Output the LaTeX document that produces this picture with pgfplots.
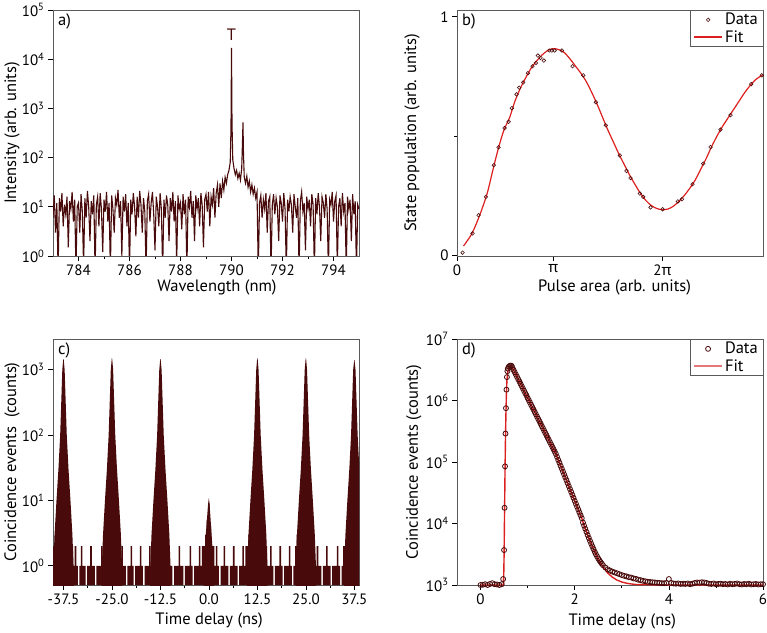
\documentclass[border=0pt]{standalone}
\usepackage{fontspec}
\setmainfont{PT Sans}
\newfontfamily\grk{Noto Sans}
\usepackage{pgfplots}
\pgfplotsset{compat=1.18}
\definecolor{maroon}{RGB}{72,10,10}
\definecolor{fitred}{RGB}{220,32,32}
\definecolor{fitpink}{RGB}{228,120,120}
\definecolor{framec}{RGB}{90,90,90}
\newcommand{\fs}{\fontsize{16.5}{18}\selectfont}
\newcommand{\fst}{\fontsize{15}{16}\selectfont}

\pgfplotsset{
  panel/.style={
    scale only axis, width=306pt, height=246pt,
    anchor=south west,
    font=\fs,
    tick label style={font=\fst},
    label style={font=\fs},
    axis line style={framec, line width=0.6pt},
    tick align=outside, xtick pos=bottom, ytick pos=left,
    major tick length=5pt, minor tick length=3pt,
    every tick/.style={black, line width=0.6pt},
    /pgf/number format/assume math mode=true,
    legend image code/.code={\draw[mark repeat=2,mark phase=2,##1] plot coordinates {(0cm,0cm)(0.5cm,0cm)(1cm,0cm)};},
    legend style={at={(1,1)}, anchor=north east, draw=framec, line width=0.5pt,
      inner xsep=3pt, inner ysep=1pt, row sep=0pt, font=\fs},
    legend cell align=left,
  },
}
\tikzset{plabel/.style={anchor=north west, inner sep=0pt, font=\fs}}

\begin{document}
\begin{tikzpicture}
\path[use as bounding box] (0,0) rectangle (767pt,632pt);

% a) emission spectrum
\begin{axis}[panel, at={(53pt,376pt)},
  xmin=783, xmax=795, ymode=log, log basis y=10, ymin=1, ymax=1e5,
  xtick={784,786,...,794}, minor x tick num=1,
  ytick={1,10,100,1000,10000,100000},
  yticklabels={10\textsuperscript{0},10\textsuperscript{1},10\textsuperscript{2},10\textsuperscript{3},10\textsuperscript{4},10\textsuperscript{5}},
  yminorticks=false,
  xlabel={Wavelength (nm)}, ylabel={Intensity (arb. units)},
  xlabel style={at={(axis description cs:0.536,-0.126)}, anchor=center},
  ylabel style={at={(axis description cs:-0.134,0.5)}, anchor=center},
]
\addplot[maroon, line width=1.1pt] coordinates {
(783.00,6)(783.05,17)(783.10,3)(783.15,12)(783.20,0.5)(783.25,15)(783.30,8)(783.35,19)(783.40,4)(783.45,11)
(783.50,7)(783.55,16)(783.60,1.5)(783.65,13)(783.70,9)(783.75,20)(783.80,5)(783.85,14)(783.90,0.5)(783.95,10)
(784.00,12)(784.05,3)(784.10,18)(784.15,8)(784.20,0.6)(784.25,15)(784.30,6)(784.35,21)(784.40,10)(784.45,2)
(784.50,13)(784.55,7)(784.60,17)(784.65,0.5)(784.70,11)(784.75,16)(784.80,4)(784.85,19)(784.90,9)(784.95,1.2)
(785.00,14)(785.05,8)(785.10,20)(785.15,5)(785.20,12)(785.25,0.5)(785.30,17)(785.35,9)(785.40,3)(785.45,15)
(785.50,11)(785.55,22)(785.60,6)(785.65,13)(785.70,1)(785.75,16)(785.80,8)(785.85,18)(785.90,4)(785.95,12)
(786.00,0.5)(786.05,14)(786.10,7)(786.15,19)(786.20,10)(786.25,2.5)(786.30,16)(786.35,6)(786.40,21)(786.45,11)
(786.50,3)(786.55,15)(786.60,8)(786.65,0.5)(786.70,13)(786.75,18)(786.80,5)(786.85,12)(786.90,20)(786.95,7)
(787.00,1.3)(787.05,16)(787.10,10)(787.15,4)(787.20,19)(787.25,9)(787.30,0.5)(787.35,14)(787.40,6)(787.45,17)
(787.50,11)(787.55,2)(787.60,15)(787.65,8)(787.70,20)(787.75,5)(787.80,13)(787.85,0.7)(787.90,17)(787.95,9)
(788.00,12)(788.05,3.5)(788.10,18)(788.15,7)(788.20,14)(788.25,0.5)(788.30,16)(788.35,10)(788.40,21)(788.45,6)
(788.50,13)(788.55,2)(788.60,17)(788.65,9)(788.70,15)(788.75,4)(788.80,19)(788.85,11)(788.90,1.5)(788.95,14)
(789.00,18)(789.05,8)(789.10,20)(789.15,4)(789.20,16)(789.25,11)(789.30,24)(789.35,6)(789.40,19)(789.45,28)
(789.50,10)(789.55,30)(789.60,15)(789.65,33)(789.70,22)(789.75,40)(789.80,30)(789.85,45)(789.90,55)(789.95,80)
(789.98,400)(790.00,17000)(790.02,500)(790.05,90)(790.10,60)(790.15,45)(790.20,55)(790.25,38)(790.30,48)(790.35,35)
(790.40,60)(790.43,200)(790.45,520)(790.47,120)(790.50,40)(790.55,30)(790.60,42)(790.65,25)(790.70,33)(790.75,20)
(790.80,28)(790.85,18)(790.90,24)(790.95,15)(791.00,20)
(791.05,0.5)(791.10,12)(791.15,17)(791.20,6)(791.25,14)(791.30,9)(791.35,19)(791.40,3)(791.45,13)(791.50,16)
(791.55,0.5)(791.60,11)(791.65,18)(791.70,7)(791.75,15)(791.80,10)(791.85,2)(791.90,17)(791.95,12)(792.00,5)
(792.05,19)(792.10,9)(792.15,0.5)(792.20,14)(792.25,8)(792.30,16)(792.35,11)(792.40,3)(792.45,18)(792.50,10)
(792.55,6)(792.60,15)(792.65,0.5)(792.70,13)(792.75,20)(792.80,8)(792.85,12)(792.90,1.3)(792.95,16)(793.00,9)
(793.05,14)(793.10,4)(793.15,18)(793.20,11)(793.25,0.5)(793.30,15)(793.35,7)(793.40,19)(793.45,10)(793.50,2)
(793.55,16)(793.60,12)(793.65,6)(793.70,18)(793.75,9)(793.80,0.5)(793.85,14)(793.90,11)(793.95,20)(794.00,5)
(794.05,13)(794.10,17)(794.15,0.6)(794.20,10)(794.25,15)(794.30,4)(794.35,19)(794.40,8)(794.45,12)(794.50,0.5)
(794.55,16)(794.60,9)(794.65,14)(794.70,2)(794.75,18)(794.80,7)(794.85,13)(794.90,0.5)(794.95,11)(795.00,9)
};
\node[maroon, font=\fs] at (axis cs:790,31623) {T};
\node[plabel] at (rel axis cs:0,1) [xshift=5pt, yshift=-4pt] {a)};
\end{axis}

% b) Rabi oscillation
\begin{axis}[panel, at={(457pt,376pt)},
  xmin=0.12, xmax=2.92, ymin=-0.004, ymax=1.028,
  xtick={0.12,1,2}, xticklabels={0,{\grk π},2{\grk π}},
  ytick={0,1}, minor ytick={0.5},
  xlabel={Pulse area (arb. units)}, ylabel={State population (arb. units)},
  xlabel style={at={(axis description cs:0.515,-0.126)}, anchor=center},
  ylabel style={at={(axis description cs:-0.147,0.5)}, anchor=center},
]
\addplot[only marks, mark=o, mark size=1.8pt, mark options={maroon, line width=0.6pt}] coordinates {
(0.171,0.010)(0.262,0.091)(0.317,0.167)(0.384,0.244)(0.457,0.377)(0.500,0.452)(0.555,0.533)(0.592,0.559)
(0.622,0.616)(0.665,0.674)(0.689,0.702)(0.726,0.724)(0.769,0.763)(0.811,0.792)(0.842,0.806)(0.860,0.837)
(0.885,0.827)(0.915,0.816)(0.964,0.858)(0.988,0.858)(1.013,0.858)(1.080,0.858)(1.177,0.792)(1.275,0.754)
(1.391,0.641)(1.482,0.544)(1.610,0.418)(1.671,0.353)(1.708,0.323)(1.793,0.258)(1.824,0.244)(1.891,0.200)
(2.001,0.192)(2.141,0.225)(2.178,0.234)(2.275,0.297)(2.373,0.384)(2.440,0.453)(2.531,0.526)(2.623,0.587)
(2.812,0.717)(2.909,0.754)
};
\addlegendentry{Data}
\addplot[fitred, line width=1.2pt, smooth] coordinates {
(0.18,0.038)(0.25,0.085)(0.30,0.135)(0.35,0.195)(0.40,0.265)(0.45,0.36)(0.50,0.45)(0.55,0.525)(0.60,0.575)
(0.65,0.645)(0.70,0.70)(0.75,0.745)(0.80,0.785)(0.85,0.815)(0.90,0.84)(0.95,0.858)(1.00,0.866)(1.05,0.862)
(1.10,0.85)(1.15,0.825)(1.20,0.795)(1.25,0.765)(1.30,0.73)(1.35,0.685)(1.40,0.635)(1.45,0.58)(1.50,0.525)
(1.55,0.475)(1.60,0.425)(1.65,0.38)(1.70,0.335)(1.75,0.295)(1.80,0.258)(1.85,0.228)(1.90,0.207)(1.95,0.195)
(2.00,0.19)(2.05,0.193)(2.10,0.205)(2.15,0.225)(2.20,0.25)(2.25,0.28)(2.30,0.315)(2.35,0.36)(2.40,0.405)
(2.45,0.455)(2.50,0.50)(2.55,0.54)(2.60,0.575)(2.65,0.61)(2.70,0.645)(2.75,0.68)(2.80,0.71)(2.85,0.735)(2.92,0.757)
};
\addlegendentry{Fit}
\node[plabel] at (rel axis cs:0,1) [xshift=5pt, yshift=-4pt] {b)};
\end{axis}

% c) coincidence histogram
\begin{axis}[panel, at={(53pt,47pt)},
  xmin=-40.2, xmax=38.7, ymode=log, log basis y=10, ymin=0.508, ymax=2960, log origin y=infty,
  xtick={-37.5,-25,-12.5,0,12.5,25,37.5}, minor x tick num=1,
  xticklabels={-37.5,-25.0,-12.5,0.0,12.5,25.0,37.5},
  ytick={1,10,100,1000},
  yticklabels={10\textsuperscript{0},10\textsuperscript{1},10\textsuperscript{2},10\textsuperscript{3}},
  xlabel={Time delay (ns)}, ylabel={Coincidence events\ \ (counts)},
  xlabel style={at={(axis description cs:0.51,-0.146)}, anchor=center},
  ylabel style={at={(axis description cs:-0.134,0.5)}, anchor=center},
]
\addplot[ybar, bar width=0.4, fill=maroon, draw=none] coordinates {
(-40.0,2)(-39.6,3)(-39.2,2)(-38.8,3)(-38.4,3)(-38.0,3)(-37.6,3)(-37.2,3)(-36.8,3)(-36.4,3)(-36.0,2)(-35.6,2)
(-35.2,2)(-34.8,1)(-34.4,2)(-34.0,1)(-33.2,1)(-32.8,2)(-32.4,1)(-32.0,1)(-31.2,1)(-30.8,1)(-30.4,2)(-30.0,1)
(-29.6,1)(-28.8,1)(-28.4,1)(-28.0,1)(-27.6,2)(-27.2,1)(-26.8,2)(-26.4,3)(-26.0,3)(-25.6,3)(-25.2,3)(-24.8,3)
(-24.4,3)(-24.0,3)(-23.6,2)(-23.2,2)(-22.8,1)(-22.4,2)(-22.0,1)(-21.6,1)(-20.8,1)(-20.4,1)(-20.0,2)(-19.6,1)
(-18.8,1)(-18.4,1)(-18.0,1)(-17.6,2)(-17.2,1)(-16.4,1)(-16.0,1)(-15.6,1)(-15.2,2)(-14.8,1)(-14.4,2)(-14.0,3)
(-13.6,3)(-13.2,3)(-12.8,3)(-12.4,3)(-12.0,3)(-11.6,3)(-11.2,3)(-10.8,2)(-10.4,2)(-10.0,1)(-9.6,1)(-8.8,1)
(-8.4,1)(-8.0,1)(-7.6,2)(-7.2,1)(-6.8,1)(-6.0,1)(-5.6,1)(-5.2,1)(-4.8,2)(-4.4,1)(-3.6,1)(-3.2,1)(-2.8,1)
(-2.4,2)(-2.0,1)(-1.6,2)(-1.2,2)(-0.8,3)(-0.4,5)(0.0,9)(0.4,4)(0.8,2)(1.2,2)(1.6,1)(2.0,2)(2.4,1)(3.2,1)
(3.6,1)(4.0,2)(4.4,1)(4.8,1)(5.6,1)(6.0,1)(6.4,2)(6.8,1)(7.2,1)(8.0,1)(8.4,1)(8.8,2)(9.2,1)(9.6,2)(10.0,2)
(10.4,3)(10.8,3)(11.2,3)(11.6,3)(12.0,3)(12.4,3)(12.8,3)(13.2,3)(13.6,3)(14.0,3)(14.4,2)(14.8,2)(15.2,1)
(15.6,1)(16.0,2)(16.4,1)(17.2,1)(17.6,1)(18.0,1)(18.4,2)(18.8,1)(19.6,1)(20.0,1)(20.4,1)(20.8,2)(21.2,1)
(22.0,1)(22.4,2)(22.8,3)(23.2,2)(23.6,3)(24.0,3)(24.4,3)(24.8,3)(25.2,3)(25.6,3)(26.0,3)(26.4,2)(26.8,2)
(27.2,1)(27.6,1)(28.0,2)(28.4,1)(28.8,1)(29.6,1)(30.0,1)(30.4,2)(30.8,1)(31.2,1)(32.0,1)(32.4,1)(32.8,1)
(33.2,2)(33.6,1)(34.4,1)(34.8,2)(35.2,2)(35.6,3)(36.0,3)(36.4,3)(36.8,3)(37.2,3)(37.6,3)(38.0,3)(38.4,3)
};
\addplot[fill=maroon, draw=none] coordinates {(-40.2,0.3)(-40.1,1)(-39.8,3)(-39.3,10)(-38.8,30)(-38.35,100)(-37.8,1000)(-37.55,1450)(-37.45,1450)(-37.2,1000)(-36.65,100)(-36.2,30)(-35.7,10)(-35.2,3)(-34.9,1)(-34.8,0.3)};
\addplot[fill=maroon, draw=none] coordinates {(-27.7,0.3)(-27.6,1)(-27.3,3)(-26.8,10)(-26.3,30)(-25.85,100)(-25.3,1000)(-25.05,1500)(-24.95,1500)(-24.7,1000)(-24.15,100)(-23.7,30)(-23.2,10)(-22.7,3)(-22.4,1)(-22.3,0.3)};
\addplot[fill=maroon, draw=none] coordinates {(-15.2,0.3)(-15.1,1)(-14.8,3)(-14.3,10)(-13.8,30)(-13.35,100)(-12.8,1000)(-12.55,1450)(-12.45,1450)(-12.2,1000)(-11.65,100)(-11.2,30)(-10.7,10)(-10.2,3)(-9.9,1)(-9.8,0.3)};
\addplot[fill=maroon, draw=none] coordinates {(-1.4,0.3)(-1.3,1)(-0.8,3)(-0.2,9)(0.0,11)(0.15,9)(0.7,3)(1.2,1)(1.3,0.3)};
\addplot[fill=maroon, draw=none] coordinates {(9.8,0.3)(9.9,1)(10.2,3)(10.7,10)(11.2,30)(11.65,100)(12.2,1000)(12.45,1500)(12.55,1500)(12.8,1000)(13.35,100)(13.8,30)(14.3,10)(14.8,3)(15.1,1)(15.2,0.3)};
\addplot[fill=maroon, draw=none] coordinates {(22.3,0.3)(22.4,1)(22.7,3)(23.2,10)(23.7,30)(24.15,100)(24.7,1000)(24.95,1500)(25.05,1500)(25.3,1000)(25.85,100)(26.3,30)(26.8,10)(27.3,3)(27.6,1)(27.7,0.3)};
\addplot[fill=maroon, draw=none] coordinates {(34.8,0.3)(34.9,1)(35.2,3)(35.7,10)(36.2,30)(36.65,100)(37.2,1000)(37.45,1400)(37.55,1400)(37.8,1000)(38.35,100)(38.8,30)(39.3,10)(39.8,3)(40.1,1)(40.2,0.3)};
\node[plabel] at (rel axis cs:0,1) [xshift=5pt, yshift=-4pt] {c)};
\end{axis}

% d) time-resolved decay
\begin{axis}[panel, at={(457pt,47pt)},
  xmin=-0.5, xmax=6, ymode=log, log basis y=10, ymin=1e3, ymax=1e7,
  xtick={0,2,4,6}, minor x tick num=1,
  ytick={1e3,1e4,1e5,1e6,1e7},
  yticklabels={10\textsuperscript{3},10\textsuperscript{4},10\textsuperscript{5},10\textsuperscript{6},10\textsuperscript{7}},
  xlabel={Time delay (ns)}, ylabel={Coincidence events (counts)},
  xlabel style={at={(axis description cs:0.54,-0.15)}, anchor=center},
  ylabel style={at={(axis description cs:-0.141,0.5)}, anchor=center},
]
\addplot[fitred, line width=1.4pt, forget plot] coordinates {
(0.00,1000)(0.48,1000)(0.49,1100)(0.50,3000)(0.51,15000)(0.52,70000)(0.53,2.5e5)(0.54,6.5e5)(0.55,1.3e6)
(0.56,2.1e6)(0.58,3.0e6)(0.61,3.5e6)(0.65,3.65e6)(0.70,3.15e6)(0.80,2.22e6)(1.00,1.10e6)(1.20,5.48e5)
(1.40,2.72e5)(1.60,1.35e5)(1.80,5.62e4)(2.00,2.34e4)(2.15,1.22e4)(2.20,9200)(2.30,5820)(2.40,3830)
(2.50,2660)(2.60,1980)(2.70,1570)(2.80,1340)(2.90,1200)(3.00,1120)(3.10,1070)(3.20,1040)(3.30,1020)
(3.50,1010)(4.00,1000)(6.00,1000)
};
\addplot[only marks, mark=o, mark size=2.5pt, mark options={maroon, line width=0.8pt}] coordinates {
(0.00,1000)(0.05,1010)(0.10,1030)(0.15,1000)(0.20,1040)(0.25,1070)(0.30,1030)(0.35,1020)(0.40,1000)(0.45,1030)
(0.48,1250)(0.50,3700)(0.51,18000)(0.52,85000)(0.53,2.9e5)(0.54,7.5e5)(0.55,1.5e6)(0.56,2.4e6)(0.57,3.0e6)
(0.58,3.3e6)(0.60,3.55e6)(0.62,3.65e6)(0.64,3.7e6)(0.66,3.65e6)
(0.675,3.44e6)(0.700,3.15e6)(0.725,2.89e6)(0.750,2.65e6)(0.775,2.43e6)(0.800,2.22e6)(0.825,2.04e6)(0.850,1.87e6)
(0.875,1.71e6)(0.900,1.57e6)(0.925,1.44e6)(0.950,1.31e6)(0.975,1.21e6)(1.000,1.10e6)(1.025,1.01e6)(1.050,9.27e5)
(1.075,8.49e5)(1.100,7.78e5)(1.125,7.13e5)(1.150,6.53e5)(1.175,5.98e5)(1.200,5.48e5)(1.225,5.02e5)(1.250,4.60e5)
(1.275,4.22e5)(1.300,3.86e5)(1.325,3.54e5)(1.350,3.24e5)(1.375,2.97e5)(1.400,2.72e5)(1.425,2.49e5)(1.450,2.29e5)
(1.475,2.09e5)(1.500,1.92e5)(1.525,1.76e5)(1.550,1.61e5)(1.575,1.48e5)(1.600,1.35e5)(1.625,1.21e5)(1.650,1.08e5)
(1.675,9.72e4)(1.700,8.71e4)(1.725,7.81e4)(1.750,7.00e4)(1.775,6.28e4)(1.800,5.62e4)(1.825,5.04e4)(1.850,4.52e4)
(1.875,4.05e4)(1.900,3.63e4)(1.925,3.26e4)(1.950,2.92e4)(1.975,2.62e4)(2.000,2.34e4)(2.025,2.10e4)(2.050,1.88e4)
(2.075,1.69e4)(2.100,1.51e4)(2.125,1.36e4)(2.150,1.22e4)(2.175,10380)(2.200,9200)(2.225,8190)(2.250,7300)
(2.275,6510)(2.300,5820)(2.325,5230)(2.350,4700)(2.375,4240)(2.400,3830)(2.425,3480)(2.450,3170)(2.475,2920)
(2.500,2700)(2.525,2520)(2.550,2360)(2.575,2230)(2.600,2100)(2.650,1930)(2.700,1800)(2.750,1720)(2.800,1650)
(2.850,1600)(2.900,1550)(2.950,1500)(3.000,1450)(3.050,1410)(3.100,1380)(3.150,1340)(3.200,1320)(3.250,1280)
(3.300,1260)(3.350,1220)(3.400,1200)(3.450,1170)(3.500,1150)(3.550,1130)(3.600,1120)(3.650,1110)(3.700,1100)
(3.750,1090)(3.800,1080)(3.850,1070)(3.900,1070)(3.950,1080)(4.000,1250)(4.050,1080)(4.100,1060)(4.150,1050)
(4.200,1060)(4.250,1040)(4.300,1050)(4.350,1040)(4.400,1060)(4.450,1030)(4.500,1050)(4.550,1080)(4.600,1100)
(4.650,1090)(4.700,1110)(4.750,1100)(4.800,1080)(4.850,1050)(4.900,1040)(4.950,1060)(5.000,1030)(5.050,1040)
(5.100,1050)(5.150,1030)(5.200,1040)(5.250,1020)(5.300,1050)(5.350,1030)(5.400,1040)(5.450,1060)(5.500,1030)
(5.550,1020)(5.600,1040)(5.650,1030)(5.700,1050)(5.750,1020)(5.800,1030)(5.850,1040)(5.900,1020)(5.950,1030)(6.000,1030)
};
\addlegendentry{Data}
\addlegendimage{fitpink, line width=1.4pt}
\addlegendentry{Fit}
\node[plabel] at (rel axis cs:0,1) [xshift=5pt, yshift=-4pt] {d)};
\end{axis}
\end{tikzpicture}
\end{document}
